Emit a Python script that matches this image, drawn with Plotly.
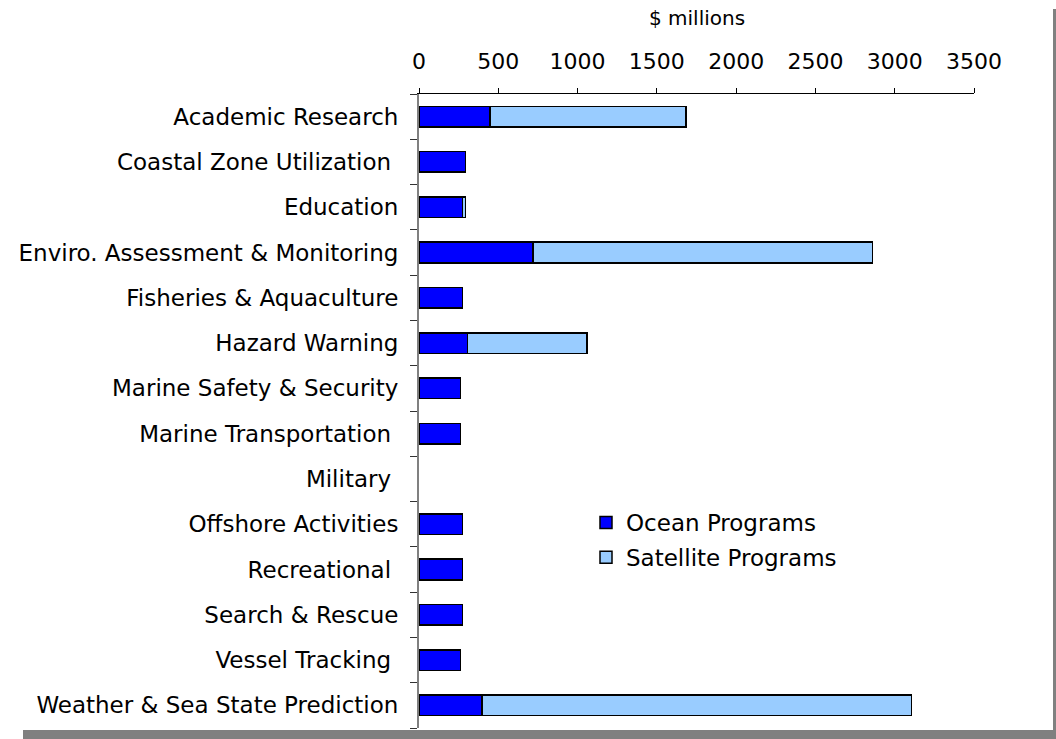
import plotly.graph_objects as go

categories = [
    "Academic Research", "Coastal Zone Utilization", "Education",
    "Enviro. Assessment & Monitoring", "Fisheries & Aquaculture",
    "Hazard Warning", "Marine Safety & Security", "Marine Transportation",
    "Military", "Offshore Activities", "Recreational", "Search & Rescue",
    "Vessel Tracking", "Weather & Sea State Prediction",
]
tick_labels = [
    "Academic Research", "Coastal Zone Utilization\u00a0", "Education",
    "Enviro. Assessment & Monitoring", "Fisheries & Aquaculture",
    "Hazard Warning", "Marine Safety & Security", "Marine Transportation\u00a0",
    "Military\u00a0", "Offshore Activities", "Recreational\u00a0", "Search & Rescue",
    "Vessel Tracking\u00a0", "Weather & Sea State Prediction",
]
ocean = [447, 292, 275, 720, 275, 307, 263, 263, 0, 275, 275, 275, 263, 397]
satellite = [1236, 0, 17, 2141, 0, 751, 0, 0, 0, 0, 0, 0, 0, 2708]
x_ticks = [0, 500, 1000, 1500, 2000, 2500, 3000, 3500]

W, H = 1056, 739
L, R, T, B = 419, 82, 94, 11
PW, PH = W - L - R, H - T - B


def px_x(p):
    return (p - L) / PW


def px_y(p):
    return (H - B - p) / PH


def nonzero(vals):
    # zero-length bars are not drawn in the reference
    return [v if v else None for v in vals]


FONT = "DejaVu Sans"

fig = go.Figure()
fig.add_trace(go.Bar(
    y=categories, x=nonzero(ocean), orientation="h", name="Ocean Programs",
    marker=dict(color="#0000FF", line=dict(color="black", width=1.5)),
    legendgroup="a",
))
fig.add_trace(go.Bar(
    y=categories, x=nonzero(satellite), orientation="h", name="Satellite Programs",
    marker=dict(color="#99CCFF", line=dict(color="black", width=1.5)),
    legendgroup="b",
))

fig.update_layout(
    width=W, height=H,
    margin=dict(l=L, r=R, t=T, b=B, autoexpand=False),
    barmode="stack", bargap=0.545,
    paper_bgcolor="white", plot_bgcolor="white",
    font=dict(family=FONT, color="black", size=22),
    showlegend=True,
    legend=dict(
        x=px_x(586), y=px_y(501), xanchor="left", yanchor="top",
        font=dict(size=23, family=FONT), tracegroupgap=2,
        bgcolor="rgba(0,0,0,0)",
    ),
    xaxis=dict(
        side="top", range=[0, 3500], tickvals=x_ticks,
        ticktext=[str(v) for v in x_ticks],
        showgrid=False, zeroline=False, showline=True, linecolor="black",
        linewidth=1, ticks="outside", ticklen=5, tickcolor="black",
        tickfont=dict(size=22, family=FONT), ticklabelstandoff=10,
    ),
    yaxis=dict(
        autorange="reversed", categoryorder="array", categoryarray=categories,
        tickvals=categories, ticktext=tick_labels,
        showgrid=False, zeroline=False, showline=True, linecolor="#808080",
        linewidth=2, ticks="outside", ticklen=7, tickcolor="#333333",
        tickson="boundaries", tickfont=dict(size=23, family=FONT),
        ticklabelstandoff=14,
    ),
    annotations=[dict(
        text="$ millions", xref="paper", yref="paper", x=0.5, y=px_y(18),
        xanchor="center", yanchor="middle", showarrow=False,
        font=dict(size=20, family=FONT),
    )],
    shapes=[
        dict(type="rect", xref="paper", yref="paper",
             x0=px_x(23), x1=px_x(1056), y0=px_y(739), y1=px_y(730),
             fillcolor="#808080", line=dict(width=0), layer="above"),
        dict(type="rect", xref="paper", yref="paper",
             x0=px_x(1053), x1=px_x(1056), y0=px_y(739), y1=px_y(9),
             fillcolor="#808080", line=dict(width=0), layer="above"),
    ],
)

fig.write_html("out.html")
